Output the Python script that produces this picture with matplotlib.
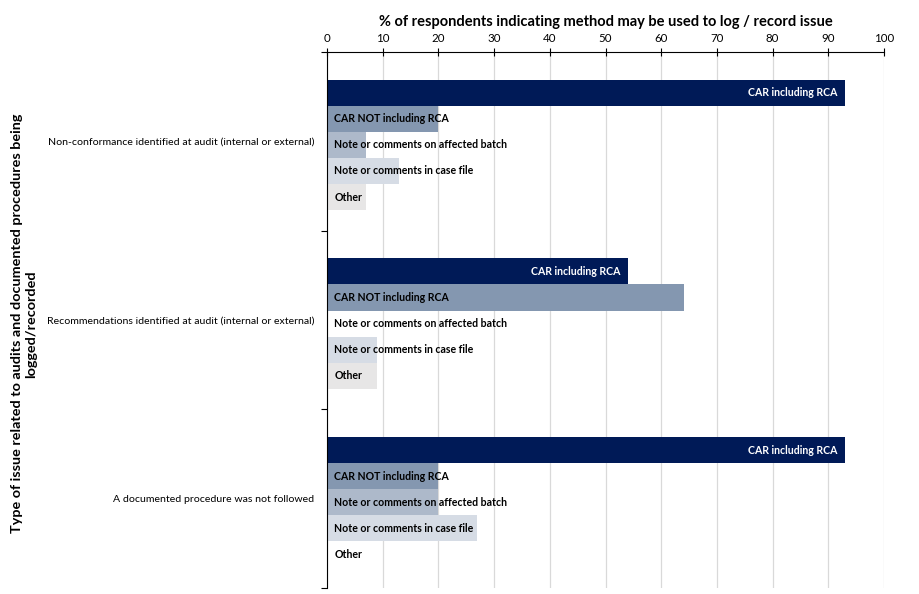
import matplotlib
matplotlib.use("Agg")
import matplotlib.pyplot as plt
import numpy as np

categories = [
    "Non-conformance identified at audit (internal or external)",
    "Recommendations identified at audit (internal or external)",
    "A documented procedure was not followed",
]
series = [
    "CAR including RCA",
    "CAR NOT including RCA",
    "Note or comments on affected batch",
    "Note or comments in case file",
    "Other",
]
car_incl = [93, 54, 93]
car_not = [20, 64, 20]
note_batch = [7, 0, 20]
note_case = [13, 9, 27]
other = [7, 9, 0]
values = [car_incl, car_not, note_batch, note_case, other]
colors = ["#001A57", "#8497B0", "#ADB9CA", "#D6DCE5", "#E7E6E6"]
xticks = list(range(0, 101, 10))

plt.rcParams['font.family'] = ['Lato', 'DejaVu Sans']

fig = plt.figure(figsize=(9.19, 5.94), dpi=100)
ax = fig.add_axes([0.3558, 0.0101, 0.962 - 0.3558, 0.9125 - 0.0101])

bh = 0.146
y0 = np.arange(len(categories))
for i, (name, vals, c) in enumerate(zip(series, values, colors)):
    ys = y0 - 2 * bh + i * bh + 0.02
    ax.barh(ys, vals, height=bh, color=c, zorder=2)
    for y, v in zip(ys, vals):
        if i == 0:
            ax.text(v - 1.3, y, name, ha='right', va='center', color='white',
                    fontsize=7.6, fontweight='bold', zorder=3)
        else:
            ax.text(1.3, y, name, ha='left', va='center', color='black',
                    fontsize=7.6, fontweight='bold', zorder=3)

ax.set_xlim(0, 100)
ax.set_ylim(2.5, -0.5)
ax.xaxis.tick_top()
ax.xaxis.set_label_position('top')
ax.set_xticks(xticks)
ax.set_xticklabels([str(t) for t in xticks], fontsize=8.3)
ax.set_xlabel("% of respondents indicating method may be used to log / record issue",
              fontsize=10.5, fontweight='bold', labelpad=5)
ax.tick_params(axis='x', direction='inout', length=6, width=0.8, pad=3)
ax.grid(axis='x', color='#D9D9D9', linewidth=0.9, zorder=0)
ax.set_axisbelow(True)

ax.set_yticks(y0)
ax.set_yticklabels(categories, fontsize=7.55)
ax.set_yticks([-0.5, 0.5, 1.5, 2.5], minor=True)
ax.tick_params(axis='y', which='major', length=0, pad=9)
ax.tick_params(axis='y', which='minor', length=4, width=0.8, direction='out')

for s in ['right', 'bottom']:
    ax.spines[s].set_visible(False)
ax.spines['top'].set_linewidth(0.8)
ax.spines['left'].set_linewidth(0.8)

fig.text(0.026, 0.455,
         "Type of issue related to audits and documented procedures being\nlogged/recorded",
         rotation=90, ha='center', va='center', fontsize=10.4, fontweight='bold',
         multialignment='center')

fig.savefig("out.png", dpi=100)
